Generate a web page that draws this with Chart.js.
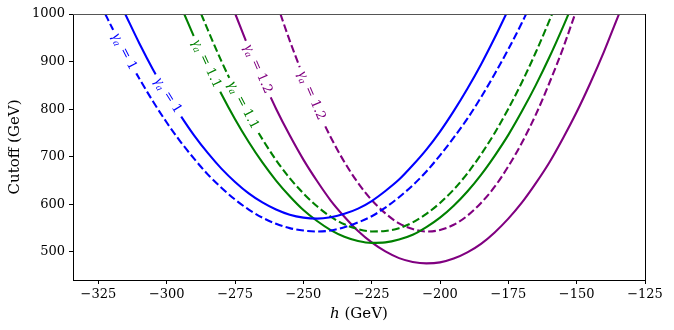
<!DOCTYPE html>
<html><head><meta charset="utf-8">
<script src="https://cdn.jsdelivr.net/npm/chart.js@4.4.1/dist/chart.umd.min.js"></script>
<style>html,body{margin:0;padding:0;background:#fff}#wrap{width:674px;height:330px}</style>
</head><body><div id="wrap"><canvas id="c" width="674" height="330"></canvas></div>
<script>
// ---- data ----
const xTicks = [-325, -300, -275, -250, -225, -200, -175, -150, -125];
const yTicks = [500, 600, 700, 800, 900, 1000];

const hBlueSolid = [-315.2,-310,-305,-300,-295,-290,-285,-280,-275,-270,-265,-260,-255,-250,-245,-240,-235,-230,-225,-220,-215,-210,-205,-200,-195,-190,-185,-180,-175.8];
const cutBlueSolid = [1000,938,883,833,787,745,708,675,647,623,604,589,578,572,570,573,580,591,607,628,652,682,715,753,796,843,894,950,1000];

const hBlueDashed = [-322.5,-320,-315,-310,-305,-300,-295,-290,-285,-280,-275,-270,-265,-260,-255,-250,-245,-240,-235,-230,-225,-220,-215,-210,-205,-200,-195,-190,-185,-180,-175,-170,-168.5];
const cutBlueDashed = [1000,971,915,864,816,772,732,696,663,635,610,589,572,559,550,545,543,545,552,562,575,593,615,640,669,703,740,780,825,874,926,982,1000];

const hGreenSolid = [-293.6,-290,-285,-280,-275,-270,-265,-260,-255,-250,-245,-240,-235,-230,-225,-220,-215,-210,-205,-200,-195,-190,-185,-180,-175,-170,-165,-160,-155,-153];
const cutGreenSolid = [1000,952,890,832,779,731,688,650,617,588,565,546,532,523,519,520,526,536,552,572,597,627,662,702,746,796,850,909,973,1000];

const hGreenDashed = [-287.4,-285,-280,-275,-270,-265,-260,-255,-250,-245,-240,-235,-230,-225,-220,-215,-210,-205,-200,-195,-190,-185,-180,-175,-170,-165,-160,-159];
const cutGreenDashed = [1000,967,901,841,786,737,693,655,623,596,574,558,548,543,544,550,562,580,603,631,665,705,750,801,857,919,986,1000];

const hPurpleSolid = [-274.9,-270,-265,-260,-255,-250,-245,-240,-235,-230,-225,-220,-215,-210,-205,-200,-195,-190,-185,-180,-175,-170,-165,-160,-155,-150,-145,-140,-135,-134.5];
const cutPurpleSolid = [1000,929,863,801,745,694,649,608,574,544,520,501,487,479,476,478,486,499,517,541,570,604,644,688,739,794,855,921,993,1000];

const hPurpleDashed = [-258.4,-255,-250,-245,-240,-235,-230,-225,-220,-215,-210,-205,-200,-195,-190,-185,-180,-175,-170,-165,-160,-155,-150.6];
const cutPurpleDashed = [1000,944,869,801,741,689,645,609,581,560,548,543,546,557,576,603,637,680,730,788,855,928,1000];

// inline curve labels: dataset index, h position, gamma value text
const labelDatasets = [1, 0, 2, 3, 4, 5];
const labelH = [-315.5, -299.5, -285.4, -272.0, -266.6, -247.0];
const labelGamma = ['1', '1', '1.1', '1.1', '1.2', '1.2'];

// ---- styling ----
const BLUE = '#0000ff', GREEN = '#008000', PURPLE = '#800080';
const DASH = [7.7, 3.3];
const SERIF = "'DejaVu Serif', serif";
const GREEK = "'Liberation Serif', serif";

function pts(hs, cs) { return hs.map((h, i) => ({x: h, y: cs[i]})); }
function ds(hs, cs, color, dashed) {
  return {
    data: pts(hs, cs), borderColor: color, backgroundColor: color,
    borderWidth: 2.1, borderDash: dashed ? DASH : [], pointRadius: 0,
    cubicInterpolationMode: 'monotone', fill: false
  };
}
const minus = v => (v < 0 ? '\u2212' + Math.abs(v) : String(v));

const labelPlugin = {
  id: 'curveLabels',
  afterDatasetsDraw(chart) {
    const ctx = chart.ctx;
    const xs = chart.scales.x;
    labelDatasets.forEach((di, k) => {
      const meta = chart.getDatasetMeta(di);
      const el = meta.data;
      const px = xs.getPixelForValue(labelH[k]);
      let i = 0;
      while (i < el.length - 2 && el[i + 1].x < px) i++;
      const p0 = el[i], p1 = el[i + 1];
      const t = (px - p0.x) / (p1.x - p0.x);
      const py = p0.y + t * (p1.y - p0.y);
      const ang = Math.atan2(p1.y - p0.y, p1.x - p0.x);
      const color = chart.data.datasets[di].borderColor;
      ctx.save();
      ctx.translate(px, py);
      ctx.rotate(ang);
      const fG = 'italic 15px ' + GREEK, fA = 'italic 10px ' + GREEK, fR = '13px ' + SERIF;
      ctx.font = fG; const wG = ctx.measureText('\u03b3').width;
      ctx.font = fA; const wA = ctx.measureText('a').width + 1;
      const rest = ' = ' + labelGamma[k];
      ctx.font = fR; const wR = ctx.measureText(rest).width;
      const w = wG + wA + wR;
      ctx.fillStyle = '#fff';
      ctx.fillRect(-w / 2 - 5, -7, w + 10, 14);
      ctx.fillStyle = color;
      ctx.textBaseline = 'middle';
      ctx.textAlign = 'left';
      let x0 = -w / 2;
      ctx.font = fG; ctx.fillText('\u03b3', x0, 0); x0 += wG;
      ctx.font = fA; ctx.fillText('a', x0, 3.5); x0 += wA;
      ctx.font = fR; ctx.fillText(rest, x0, 0);
      ctx.restore();
    });
  },
  afterDraw(chart) {
    const ctx = chart.ctx, a = chart.chartArea;
    ctx.save();
    ctx.lineWidth = 1;
    ctx.strokeStyle = '#555';
    ctx.beginPath(); ctx.moveTo(a.left, a.top + 0.5); ctx.lineTo(a.right, a.top + 0.5); ctx.stroke();
    ctx.strokeStyle = '#000';
    ctx.beginPath(); ctx.moveTo(a.right + 0.5, a.top); ctx.lineTo(a.right + 0.5, a.bottom); ctx.stroke();
    // x axis title: italic h + (GeV)
    ctx.fillStyle = '#000';
    ctx.textBaseline = 'alphabetic';
    ctx.textAlign = 'left';
    const fH = 'italic 15px ' + SERIF, fT = '15px ' + SERIF;
    ctx.font = fH; const wh = ctx.measureText('h').width;
    ctx.font = fT; const wt = ctx.measureText(' (GeV)').width;
    const cx = (a.left + a.right) / 2;
    let x0 = cx - (wh + wt) / 2;
    ctx.font = fH; ctx.fillText('h', x0, 318);
    ctx.font = fT; ctx.fillText(' (GeV)', x0 + wh, 318);
    ctx.restore();
  }
};

new Chart(document.getElementById('c'), {
  type: 'line',
  data: {
    datasets: [
      ds(hBlueSolid, cutBlueSolid, BLUE, false),
      ds(hBlueDashed, cutBlueDashed, BLUE, true),
      ds(hGreenSolid, cutGreenSolid, GREEN, false),
      ds(hGreenDashed, cutGreenDashed, GREEN, true),
      ds(hPurpleSolid, cutPurpleSolid, PURPLE, false),
      ds(hPurpleDashed, cutPurpleDashed, PURPLE, true)
    ]
  },
  options: {
    responsive: false, animation: false, devicePixelRatio: 1,
    layout: {padding: {left: 0, top: 14, right: 29, bottom: 0}},
    plugins: {legend: {display: false}, tooltip: {enabled: false}},
    scales: {
      x: {
        type: 'linear', min: -334.3, max: -125,
        afterBuildTicks: s => { s.ticks = xTicks.map(v => ({value: v})); },
        afterFit: s => { s.height = 50; },
        ticks: {autoSkip: false, maxRotation: 0, padding: 3, color: '#000',
                font: {family: SERIF, size: 13}, callback: v => minus(v)},
        grid: {drawOnChartArea: false, drawTicks: true, tickLength: 4, color: '#000', lineWidth: 1},
        border: {display: true, color: '#000', width: 1}
      },
      y: {
        type: 'linear', min: 441, max: 1000,
        afterBuildTicks: s => { s.ticks = yTicks.map(v => ({value: v})); },
        afterFit: s => { s.width = 73; },
        ticks: {autoSkip: false, padding: 4, color: '#000',
                font: {family: SERIF, size: 13}, callback: v => minus(v)},
        grid: {drawOnChartArea: false, drawTicks: true, tickLength: 4, color: '#000', lineWidth: 1},
        border: {display: true, color: '#000', width: 1},
        title: {display: true, text: 'Cutoff (GeV)', color: '#000',
                font: {family: SERIF, size: 15}, padding: {top: 6, bottom: 0}}
      }
    }
  },
  plugins: [labelPlugin]
});
</script>
</body></html>
